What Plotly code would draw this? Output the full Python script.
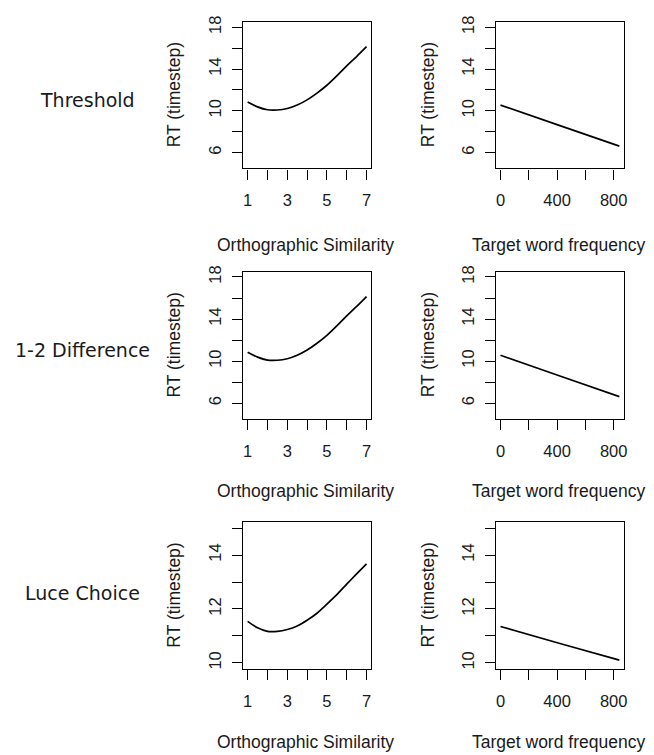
import plotly.graph_objects as go

# ---------------- data ----------------
sim_x = [1, 1.5, 2, 2.5, 3, 3.5, 4, 4.5, 5, 5.5, 6, 6.5, 7]
threshold_sim = [10.85, 10.38, 10.10, 10.08, 10.22, 10.55, 11.05, 11.70, 12.45, 13.35, 14.30, 15.20, 16.14]
difference_sim = [10.85, 10.38, 10.10, 10.08, 10.22, 10.55, 11.05, 11.70, 12.45, 13.35, 14.30, 15.20, 16.14]
luce_sim = [11.54, 11.30, 11.17, 11.17, 11.24, 11.37, 11.58, 11.84, 12.18, 12.53, 12.92, 13.30, 13.67]

freq_x = [0, 420, 840]
threshold_freq = [10.55, 8.58, 6.62]
difference_freq = [10.55, 8.58, 6.62]
luce_freq = [11.35, 10.72, 10.10]

row_labels = ["Threshold", "1-2 Difference", "Luce Choice"]
x_titles = ["Orthographic Similarity", "Target word frequency"]
y_title = "RT (timestep)"

sim_ticks = [1, 2, 3, 4, 5, 6, 7]
sim_ticktext = ["1", "", "3", "", "5", "", "7"]
freq_ticks = [0, 200, 400, 600, 800]
freq_ticktext = ["0", "", "400", "", "800"]
rt_ticks_wide = [6, 8, 10, 12, 14, 16, 18]
rt_ticktext_wide = ["6", "", "10", "", "14", "", "18"]
rt_ticks_narrow = [10, 11, 12, 13, 14, 15]
rt_ticktext_narrow = ["10", "", "12", "", "14", ""]

# ---------------- layout geometry (pixels) ----------------
W, H = 654, 755
col_px = [(244, 373), (498, 627)]
row_px = [(16, 164), (268, 417), (521, 669)]
row_label_pos = [(88, 95), (82.5, 347), (83, 592)]
xtitle_y = [241, 490, 743]
ytitle_x = [175, 430]

sim_range = [0.76, 7.24]
freq_range = [-33.6, 873.6]
rt_range_wide = [4.48, 18.52]
rt_range_narrow = [9.78, 15.22]

TICK_FONT = dict(family="Liberation Sans, Arial, sans-serif", size=16.5, color="#1a1a1a")
TITLE_FONT = dict(family="Liberation Sans, Arial, sans-serif", size=17.5, color="#1a1a1a")
ROW_FONT = dict(family="DejaVu Sans, sans-serif", size=19, color="#1a1a1a")

sim_series = [threshold_sim, difference_sim, luce_sim]
freq_series = [threshold_freq, difference_freq, luce_freq]

fig = go.Figure()
layout = dict(
    width=W, height=H,
    margin=dict(l=0, r=0, t=0, b=0),
    paper_bgcolor="white", plot_bgcolor="white",
    showlegend=False,
)
annotations = []

axis_common = dict(
    showline=True, linecolor="black", linewidth=1.4, mirror=True,
    ticks="outside", ticklen=10, tickwidth=1.4, tickcolor="black",
    showgrid=False, zeroline=False, fixedrange=True,
    tickfont=TICK_FONT,
)

idx = 0
for r in range(3):
    y0, y1 = row_px[r]
    ydom = [1 - y1 / H, 1 - y0 / H]
    for c in range(2):
        idx += 1
        x0, x1 = col_px[c]
        xdom = [x0 / W, x1 / W]
        xname = "xaxis" if idx == 1 else f"xaxis{idx}"
        yname = "yaxis" if idx == 1 else f"yaxis{idx}"
        xref = "x" if idx == 1 else f"x{idx}"
        yref = "y" if idx == 1 else f"y{idx}"
        if c == 0:
            xs, ys = sim_x, sim_series[r]
            xt, xtt, xr = sim_ticks, sim_ticktext, sim_range
        else:
            xs, ys = freq_x, freq_series[r]
            xt, xtt, xr = freq_ticks, freq_ticktext, freq_range
        if r < 2:
            yt, ytt, yr = rt_ticks_wide, rt_ticktext_wide, rt_range_wide
        else:
            yt, ytt, yr = rt_ticks_narrow, rt_ticktext_narrow, rt_range_narrow

        fig.add_trace(go.Scatter(x=xs, y=ys, mode="lines",
                                 line=dict(color="black", width=1.7, shape="spline", smoothing=0.5),
                                 xaxis=xref, yaxis=yref, hoverinfo="skip"))
        layout[xname] = dict(axis_common, domain=xdom, anchor=yref, range=xr,
                             tickmode="array", tickvals=xt, ticktext=xtt,
                             ticklabelstandoff=7)
        layout[yname] = dict(axis_common, domain=ydom, anchor=xref, range=yr,
                             tickmode="array", tickvals=yt, ticktext=ytt,
                             tickangle=-90, ticklabelstandoff=4)

        # axis titles as annotations
        annotations.append(dict(
            x=(x0 + x1) / 2 / W - 1.5 / W, y=1 - xtitle_y[r] / H, xref="paper", yref="paper",
            text=x_titles[c], showarrow=False, font=TITLE_FONT,
            xanchor="center", yanchor="middle"))
        annotations.append(dict(
            x=ytitle_x[c] / W, y=1 - (y0 + y1) / 2 / H, xref="paper", yref="paper",
            text=y_title, showarrow=False, font=TITLE_FONT, textangle=-90,
            xanchor="center", yanchor="middle"))

    lx, ly = row_label_pos[r]
    annotations.append(dict(
        x=lx / W, y=1 - ly / H, xref="paper", yref="paper",
        text=row_labels[r], showarrow=False, font=ROW_FONT,
        xanchor="center", yanchor="middle"))

layout["annotations"] = annotations
fig.update_layout(**layout)
fig.write_html("out.html")
